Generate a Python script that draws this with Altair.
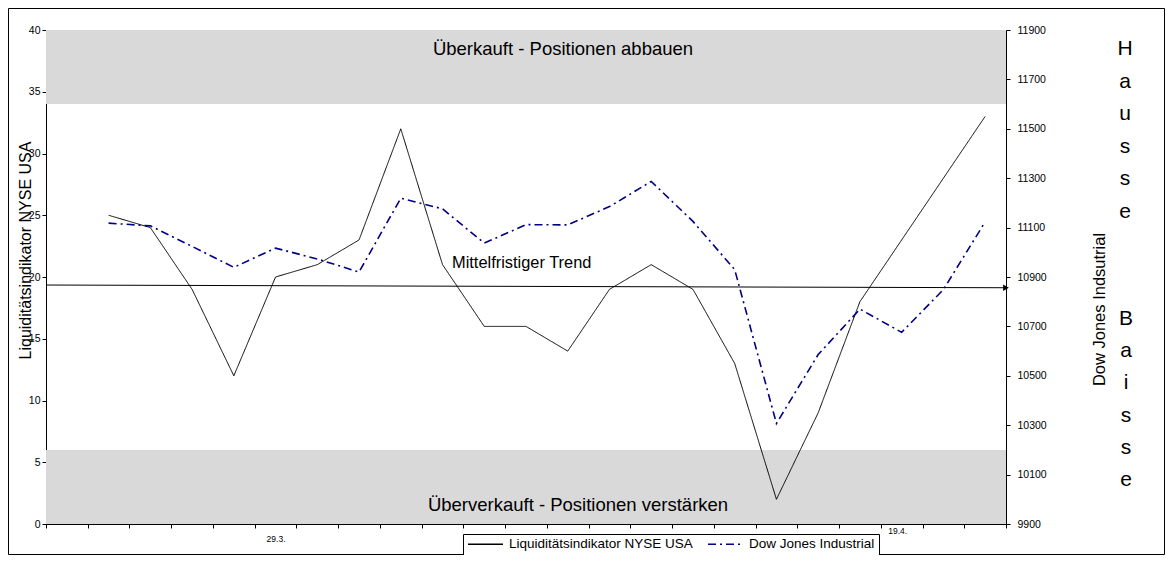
import altair as alt
import pandas as pd

# ---------------- data ----------------
dates = ["22.3.", "23.3.", "24.3.", "27.3.", "28.3.", "29.3.", "30.3.", "31.3.",
         "3.4.", "4.4.", "5.4.", "6.4.", "7.4.", "10.4.", "11.4.", "12.4.",
         "13.4.", "14.4.", "17.4.", "18.4.", "19.4.", "20.4.", "24.4."]
# values start at the second date
liquidity = [25, 24, 19, 12, 20, 21, 23, 32, 21, 16, 16, 14, 19, 21, 19, 13, 2, 9, 18, 23, 28, 33]
dow_jones = [11118, 11107, 11024, 10939, 11017, 10973, 10920, 11219, 11176, 11037, 11112,
             11111, 11185, 11287, 11125, 10930, 10307, 10586, 10770, 10676, 10849, 11123]
axis_label_date = "29.3."
extra_label_date = "19.4."
left_ticks = [0, 5, 10, 15, 20, 25, 30, 35, 40]
right_ticks = [9900, 10100, 10300, 10500, 10700, 10900, 11100, 11300, 11500, 11700, 11900]
band_low = [34, 0]
band_high = [40, 6]
band_text = ["Überkauft - Positionen abbauen", "Überverkauft - Positionen verstärken"]
trend_values = [19.35, 19.13]
side_words = ["Hausse", "Baisse"]

S1 = "Liquiditätsindikator NYSE USA"
S2 = "Dow Jones Industrial"
FONT = "Liberation Sans"

W, H = 960, 494
n = len(dates)
positions = list(range(1, n + 1))
start = n - len(liquidity) + 1

liq_df = pd.DataFrame({"pos": positions[start - 1:], "value": liquidity, "series": S1})
dj_df = pd.DataFrame({"pos": positions[start - 1:], "value": dow_jones, "series": S2})
band_df = pd.DataFrame({"x0": [0.5, 0.5], "x1": [n + 0.5, n + 0.5], "lo": band_low, "hi": band_high})
trend_df = pd.DataFrame({"pos": [0.5, n + 0.5], "value": trend_values})
arrow_df = trend_df.tail(1)
lbl_pos = dates.index(axis_label_date) + 1
extra_df = pd.DataFrame({"pos": [dates.index(extra_label_date) + 1], "t": [extra_label_date]})

x_scale = alt.Scale(domain=[0.5, n + 0.5], nice=False, zero=False)
x_axis = alt.Axis(values=[i + 0.5 for i in range(n + 1)],
                  labelExpr=f"datum.value == {lbl_pos - 0.5} ? '{axis_label_date}' : ''",
                  labelOffset=W / n / 2, labelFontSize=8.5, labelPadding=6, tickSize=4,
                  labelOverlap=False, labelFlush=False, grid=False, title=None,
                  domainColor="black", tickColor="black", labelColor="black")

yl_scale = alt.Scale(domain=[0, 40], nice=False, zero=False)
yl_axis = alt.Axis(values=left_ticks, format="d", grid=False, tickSize=4, labelPadding=2,
                   labelFontSize=10.5, labelColor="black", domainColor="black", tickColor="black",
                   title=S1, titleAngle=-90, titleX=-21, titleY=220, titleAlign="center",
                   titleBaseline="middle", titleFontSize=16, titleFontWeight="normal",
                   titleColor="black")

yr_scale = alt.Scale(domain=[9900, 11900], nice=False, zero=False)
yr_axis = alt.Axis(orient="right", values=right_ticks, format="d", grid=False, tickSize=4,
                   labelPadding=7, labelFontSize=10.5, labelColor="black",
                   domainColor="black", tickColor="black",
                   title="Dow Jones Indsutrial", titleAngle=-90, titleX=93, titleY=279,
                   titleAlign="center", titleBaseline="middle", titleFontSize=16.5,
                   titleFontWeight="normal", titleColor="black")

legend = alt.Legend(orient="none", legendX=417, legendY=504, direction="horizontal", title=None,
                    strokeColor="black", fillColor="white", padding=4, symbolType="stroke",
                    symbolSize=1225, symbolStrokeWidth=1.5, labelFont=FONT, labelFontSize=13.5,
                    labelColor="black", labelOffset=5, labelLimit=400, columnPadding=14,
                    cornerRadius=0, clipHeight=12)
color = alt.Color("series:N", scale=alt.Scale(domain=[S1, S2], range=["#000000", "#000080"]),
                  legend=legend)
dash = alt.StrokeDash("series:N", scale=alt.Scale(domain=[S1, S2], range=[[1, 0], [8, 4, 2, 4]]),
                      legend=legend)

X = alt.X("pos:Q", scale=x_scale, axis=x_axis)
YL = alt.Y("value:Q", scale=yl_scale, axis=yl_axis)

bands = alt.Chart(band_df).mark_rect(fill="#d9d9d9").encode(
    x=alt.X("x0:Q", scale=x_scale, axis=x_axis), x2="x1",
    y=alt.Y("lo:Q", scale=yl_scale, axis=yl_axis), y2="hi")

trend = alt.Chart(trend_df).mark_line(color="black", strokeWidth=1).encode(x=X, y=YL)
arrow = alt.Chart(arrow_df).mark_point(shape="triangle-right", filled=True, color="black",
                                       opacity=1, size=45).encode(x=X, y=YL)

liq_line = alt.Chart(liq_df).mark_line(strokeWidth=1).encode(x=X, y=YL, color=color, strokeDash=dash)

dj_line = alt.Chart(dj_df).mark_line(strokeWidth=1.6).encode(
    x=X, y=alt.Y("value:Q", scale=yr_scale, axis=yr_axis), color=color, strokeDash=dash)

one = pd.DataFrame({"k": [0]})
top_text = alt.Chart(one).mark_text(text=band_text[0], font=FONT, fontSize=18.5, color="black",
                                    align="center", baseline="alphabetic").encode(
    x=alt.value(517), y=alt.value(25))
bot_text = alt.Chart(one).mark_text(text=band_text[1], font=FONT, fontSize=18.5, color="black",
                                    align="center", baseline="alphabetic").encode(
    x=alt.value(532), y=alt.value(481))
trend_text = alt.Chart(one).mark_text(text="Mittelfristiger Trend", font=FONT, fontSize=16.4,
                                      color="black", align="left", baseline="alphabetic").encode(
    x=alt.value(406), y=alt.value(238))
hausse = alt.Chart(one).mark_text(text="\n".join(side_words[0]), lineBreak="\n", lineHeight=32.6,
                                  font=FONT, fontSize=21, color="black", align="center",
                                  baseline="alphabetic").encode(x=alt.value(1079), y=alt.value(25))
baisse = alt.Chart(one).mark_text(text="\n".join(side_words[1]), lineBreak="\n", lineHeight=32.2,
                                  font=FONT, fontSize=21, color="black", align="center",
                                  baseline="alphabetic").encode(x=alt.value(1080), y=alt.value(295))
extra = alt.Chart(extra_df).mark_text(font=FONT, fontSize=8.5, color="black", align="center",
                                      baseline="alphabetic", dx=-4).encode(
    x=X, y=alt.value(H + 10), text="t:N")
frame = alt.Chart(one).mark_rect(fillOpacity=0, stroke="black", strokeWidth=1).encode(
    x=alt.value(-37.5), x2=alt.value(W + 158.5), y=alt.value(-21.5), y2=alt.value(H + 30.5))

left_layer = alt.layer(bands, trend, arrow, liq_line, top_text, bot_text, trend_text,
                       hausse, baisse, extra, frame)

chart = alt.layer(left_layer, dj_line).resolve_scale(y="independent").properties(
    width=W, height=H, autosize=alt.AutoSizeParams(type="none"),
    padding={"left": 38, "top": 22, "right": 159, "bottom": 31}
).configure(font=FONT).configure_view(stroke=None)

chart.save("out.html", embed_options={"renderer": "svg", "actions": False})
